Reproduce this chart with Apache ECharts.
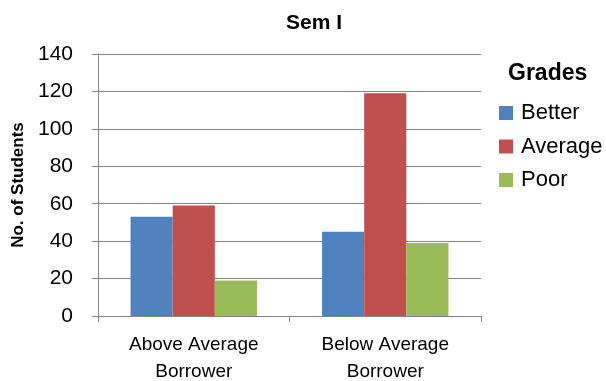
<!DOCTYPE html>
<html><head><meta charset="utf-8">
<script src="https://cdn.jsdelivr.net/npm/echarts@6/dist/echarts.min.js"></script>
<style>html,body{margin:0;padding:0;background:#fff}#c{width:606px;height:381px}</style>
</head><body><div id="c"></div>
<script>
const categories = ['Above Average\nBorrower', 'Below Average\nBorrower'];
const seriesNames = ['Better', 'Average', 'Poor'];
const better = [53, 45];
const average = [59, 119];
const poor = [19, 39];
const colors = ['#4F81BD', '#C0504D', '#9BBB59'];
const font = 'Liberation Sans, Arial, sans-serif';
const chart = echarts.init(document.getElementById('c'));
chart.setOption({
  animation: false,
  title: [
    {text: 'Sem I', left: 309, top: 8, textAlign: 'center',
     textStyle: {fontFamily: font, fontSize: 21, fontWeight: 'bold', color: '#000'}},
    {text: 'Grades', left: 503, top: 57,
     textStyle: {fontFamily: font, fontSize: 23, fontWeight: 'bold', color: '#000'}}
  ],
  legend: {
    orient: 'vertical', left: 494, top: 97, itemWidth: 14, itemHeight: 14, itemGap: 11.5,
    icon: 'rect',
    textStyle: {fontFamily: font, fontSize: 22, color: '#000', padding: [0,0,0,3]},
    data: seriesNames
  },
  grid: {left: 98, right: 125, top: 54, bottom: 65, containLabel: false, outerBoundsMode: 'none'},
  xAxis: {
    type: 'category', data: categories,
    axisLine: {lineStyle: {color: '#868686', width: 1}},
    axisTick: {show: true, length: 6, lineStyle: {color: '#868686'}},
    axisLabel: {fontFamily: font, fontSize: 19, color: '#000', lineHeight: 27, margin: 15}
  },
  yAxis: {
    type: 'value', min: 0, max: 140, interval: 20,
    name: 'No. of Students', nameLocation: 'middle', nameGap: 71,
    nameTextStyle: {fontFamily: font, fontSize: 17, fontWeight: 'bold', color: '#000'},
    axisLine: {show: true, lineStyle: {color: '#868686'}},
    axisTick: {show: true, length: 6, lineStyle: {color: '#868686'}},
    axisLabel: {fontFamily: font, fontSize: 21, color: '#000', margin: 25},
    splitLine: {lineStyle: {color: '#868686', width: 1}}
  },
  series: [
    {name: seriesNames[0], type: 'bar', data: better, itemStyle: {color: colors[0]}, barGap: '0%', barCategoryGap: '34%'},
    {name: seriesNames[1], type: 'bar', data: average, itemStyle: {color: colors[1]}},
    {name: seriesNames[2], type: 'bar', data: poor, itemStyle: {color: colors[2]}}
  ]
});
</script></body></html>
